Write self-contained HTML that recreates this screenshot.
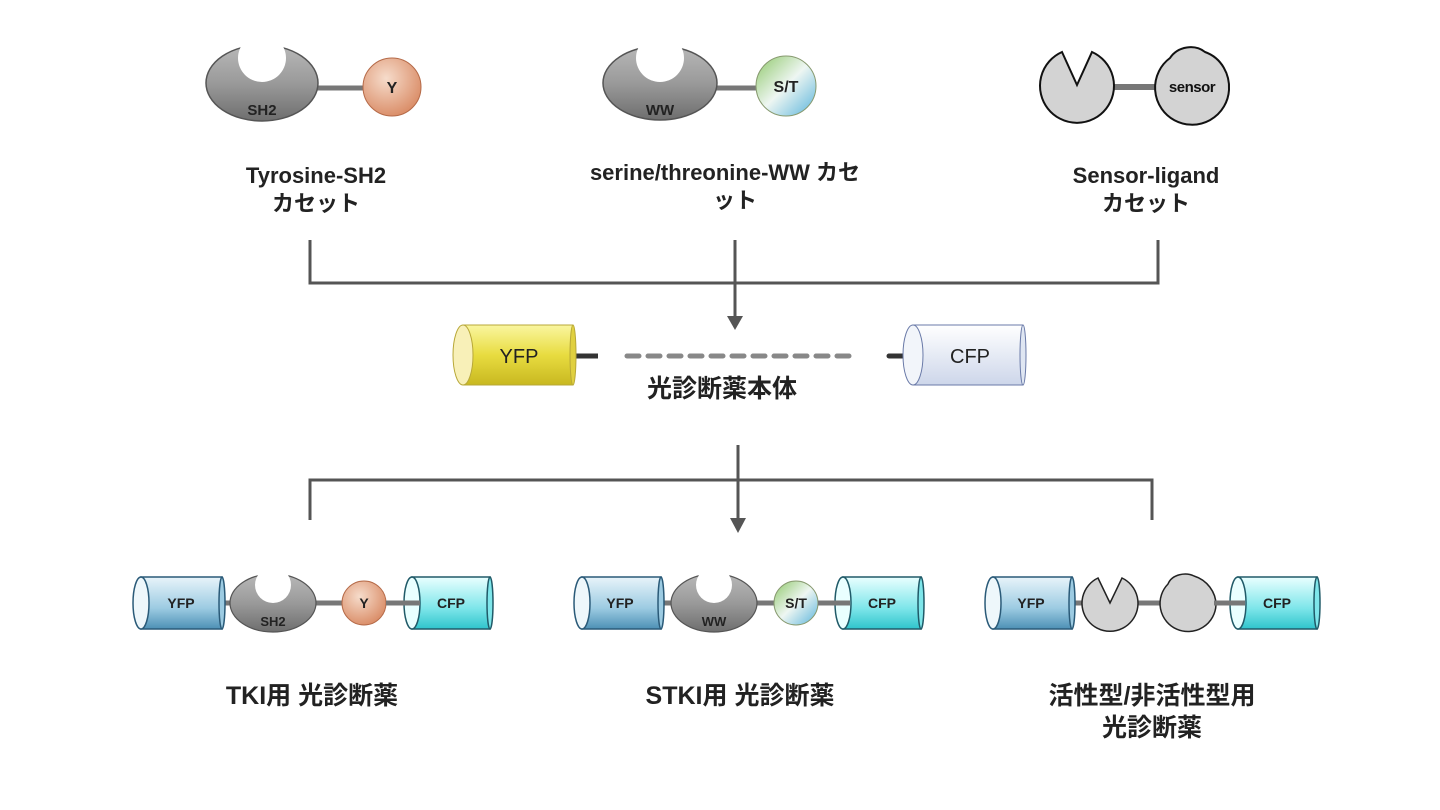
<!DOCTYPE html>
<html><head><meta charset="utf-8"><style>
html,body{margin:0;padding:0;background:#fff;}
svg{display:block;}
text{font-family:"Liberation Sans","Noto Sans CJK JP",sans-serif;}
.lab{font-family:"Liberation Sans","Noto Sans CJK JP",sans-serif;font-weight:bold;font-size:22px;fill:#222;text-anchor:middle;}
.lab2{font-family:"Liberation Sans","Noto Sans CJK JP",sans-serif;font-weight:bold;font-size:25px;fill:#222;text-anchor:middle;}
</style></head><body>
<svg width="1440" height="810" viewBox="0 0 1440 810" xmlns="http://www.w3.org/2000/svg">
<defs>
<linearGradient id="gray" x1="0" y1="0" x2="0" y2="1"><stop offset="0" stop-color="#b8b8b8"/><stop offset="0.5" stop-color="#9a9a9a"/><stop offset="1" stop-color="#6e6e6e"/></linearGradient>
<radialGradient id="org" cx="0.4" cy="0.35" r="0.7"><stop offset="0" stop-color="#f6dccb"/><stop offset="1" stop-color="#d98a64"/></radialGradient>
<linearGradient id="st" x1="0" y1="0" x2="1" y2="1"><stop offset="0" stop-color="#8fc86a"/><stop offset="0.5" stop-color="#eef6f2"/><stop offset="1" stop-color="#5ab4dc"/></linearGradient>
<linearGradient id="yel" x1="0" y1="0" x2="0" y2="1"><stop offset="0" stop-color="#faf6a0"/><stop offset="0.5" stop-color="#e8dc40"/><stop offset="1" stop-color="#c8b820"/></linearGradient>
<linearGradient id="cfp0" x1="0" y1="0" x2="0" y2="1"><stop offset="0" stop-color="#ffffff"/><stop offset="1" stop-color="#cdd6ea"/></linearGradient>
<linearGradient id="bl" x1="0" y1="0" x2="0" y2="1"><stop offset="0" stop-color="#e8f4fa"/><stop offset="0.6" stop-color="#9ccbe2"/><stop offset="1" stop-color="#4d90b5"/></linearGradient>
<linearGradient id="cy" x1="0" y1="0" x2="0" y2="1"><stop offset="0" stop-color="#e9ffff"/><stop offset="0.6" stop-color="#7ee6ea"/><stop offset="1" stop-color="#2fc4cc"/></linearGradient>
</defs>

<g>
<line x1="316" y1="88" x2="366" y2="88" stroke="#777" stroke-width="5"/>
<ellipse cx="262" cy="83" rx="56" ry="38" fill="url(#gray)" stroke="#555" stroke-width="1.5"/>
<circle cx="262" cy="58" r="24" fill="#fff"/>
<text x="262" y="115" font-size="15" font-weight="bold" text-anchor="middle" fill="#222">SH2</text>
<circle cx="392" cy="87" r="29" fill="url(#org)" stroke="#b56a48" stroke-width="1"/>
<text x="392" y="93" font-size="16" font-weight="bold" text-anchor="middle" fill="#222">Y</text>
</g>
<g>
<line x1="714" y1="88" x2="758" y2="88" stroke="#777" stroke-width="5"/>
<ellipse cx="660" cy="83" rx="57" ry="37" fill="url(#gray)" stroke="#555" stroke-width="1.5"/>
<circle cx="660" cy="58" r="24" fill="#fff"/>
<text x="660" y="115" font-size="15" font-weight="bold" text-anchor="middle" fill="#222">WW</text>
<circle cx="786" cy="86" r="30" fill="url(#st)" stroke="#889a70" stroke-width="1"/>
<text x="786" y="92" font-size="16" font-weight="bold" text-anchor="middle" fill="#222">S/T</text>
</g>
<g>
<line x1="1113" y1="87" x2="1157" y2="87" stroke="#777" stroke-width="6"/>
<path d="M1062,52 L1077,85 L1092,52 A37,37 0 1 1 1062,52 Z" fill="#d3d3d3" stroke="#111" stroke-width="2"/>
<path d="M1170,58 C1178,46 1195,44 1205,52 C1222,58 1230,75 1229,90 A37,37 0 1 1 1170,58 Z" fill="#d3d3d3" stroke="#111" stroke-width="2"/>
<text x="1192" y="92" font-size="15" font-weight="bold" text-anchor="middle" fill="#111" letter-spacing="-0.5">sensor</text>
</g>

<text class="lab" x="316" y="183">Tyrosine-SH2</text>
<text class="lab" x="316" y="211">カセット</text>
<text class="lab" x="725" y="180">serine/threonine-WW カセ</text>
<text class="lab" x="735" y="208">ット</text>
<text class="lab" x="1146" y="183">Sensor-ligand</text>
<text class="lab" x="1146" y="211">カセット</text>

<g stroke="#555" stroke-width="3" fill="none">
<path d="M310,240 V283 H1158 V240"/>
<path d="M735,240 V318"/>
<path d="M738,445 V520"/>
<path d="M310,520 V480 H1152 V520"/>
</g>
<polygon points="727,316 743,316 735,330" fill="#555"/>
<polygon points="730,518 746,518 738,533" fill="#555"/>

<line x1="573" y1="356" x2="598" y2="356" stroke="#333" stroke-width="5"/>
<line x1="627" y1="356" x2="858" y2="356" stroke="#888" stroke-width="5" stroke-dasharray="12,9" stroke-linecap="round"/>
<line x1="889" y1="356" x2="916" y2="356" stroke="#333" stroke-width="5" stroke-linecap="round"/>
<g>
<rect x="463" y="325" width="110" height="60" fill="url(#yel)" stroke="#b8a838" stroke-width="1"/>
<ellipse cx="573" cy="355" rx="3" ry="30" fill="#e0d040" stroke="#b8a838"/>
<ellipse cx="463" cy="355" rx="10" ry="30" fill="#f8f0b8" stroke="#b8a838"/>
<text x="519" y="363" font-size="20" text-anchor="middle" fill="#222">YFP</text>
</g>
<g>
<rect x="913" y="325" width="110" height="60" fill="url(#cfp0)" stroke="#6a7aa8" stroke-width="1"/>
<ellipse cx="1023" cy="355" rx="3" ry="30" fill="#dfe6f2" stroke="#6a7aa8"/>
<ellipse cx="913" cy="355" rx="10" ry="30" fill="#f2f5fa" stroke="#6a7aa8"/>
<text x="970" y="363" font-size="20" text-anchor="middle" fill="#222">CFP</text>
</g>
<text class="lab2" x="722" y="397">光診断薬本体</text>

<line x1="222" y1="603" x2="404" y2="603" stroke="#777" stroke-width="5"/>
<g>
<rect x="141" y="577" width="81" height="52" fill="url(#bl)" stroke="#2a5a78" stroke-width="1.5"/>
<ellipse cx="141" cy="603" rx="8" ry="26" fill="#eef7fb" stroke="#2a5a78" stroke-width="1.5"/>
<ellipse cx="222" cy="603" rx="3" ry="26" fill="#9ccbe2" stroke="#2a5a78" stroke-width="1.5"/>
<text x="181" y="608" font-size="14" font-weight="bold" text-anchor="middle" fill="#222">YFP</text>
</g>
<ellipse cx="273" cy="603" rx="43" ry="29" fill="url(#gray)" stroke="#555" stroke-width="1.2"/>
<circle cx="273" cy="585" r="18" fill="#fff"/>
<text x="273" y="626" font-size="13" font-weight="bold" text-anchor="middle" fill="#222">SH2</text>
<circle cx="364" cy="603" r="22" fill="url(#org)" stroke="#b56a48"/>
<text x="364" y="608" font-size="14" font-weight="bold" text-anchor="middle" fill="#222">Y</text>
<g>
<rect x="412" y="577" width="78" height="52" fill="url(#cy)" stroke="#205a68" stroke-width="1.5"/>
<ellipse cx="412" cy="603" rx="8" ry="26" fill="#e9ffff" stroke="#205a68" stroke-width="1.5"/>
<ellipse cx="490" cy="603" rx="3" ry="26" fill="#7ee6ea" stroke="#205a68" stroke-width="1.5"/>
<line x1="386" y1="603" x2="420" y2="603" stroke="#777" stroke-width="5"/>
<text x="451" y="608" font-size="14" font-weight="bold" text-anchor="middle" fill="#222">CFP</text>
</g>

<line x1="661" y1="603" x2="843" y2="603" stroke="#777" stroke-width="5"/>
<g>
<rect x="582" y="577" width="79" height="52" fill="url(#bl)" stroke="#2a5a78" stroke-width="1.5"/>
<ellipse cx="582" cy="603" rx="8" ry="26" fill="#eef7fb" stroke="#2a5a78" stroke-width="1.5"/>
<ellipse cx="661" cy="603" rx="3" ry="26" fill="#9ccbe2" stroke="#2a5a78" stroke-width="1.5"/>
<text x="620" y="608" font-size="14" font-weight="bold" text-anchor="middle" fill="#222">YFP</text>
</g>
<ellipse cx="714" cy="603" rx="43" ry="29" fill="url(#gray)" stroke="#555" stroke-width="1.2"/>
<circle cx="714" cy="585" r="18" fill="#fff"/>
<text x="714" y="626" font-size="13" font-weight="bold" text-anchor="middle" fill="#222">WW</text>
<circle cx="796" cy="603" r="22" fill="url(#st)" stroke="#889a70"/>
<text x="796" y="608" font-size="14" font-weight="bold" text-anchor="middle" fill="#222">S/T</text>
<g>
<rect x="843" y="577" width="78" height="52" fill="url(#cy)" stroke="#205a68" stroke-width="1.5"/>
<ellipse cx="843" cy="603" rx="8" ry="26" fill="#e9ffff" stroke="#205a68" stroke-width="1.5"/>
<ellipse cx="921" cy="603" rx="3" ry="26" fill="#7ee6ea" stroke="#205a68" stroke-width="1.5"/>
<line x1="818" y1="603" x2="850" y2="603" stroke="#777" stroke-width="5"/>
<text x="882" y="608" font-size="14" font-weight="bold" text-anchor="middle" fill="#222">CFP</text>
</g>

<line x1="1072" y1="603" x2="1238" y2="603" stroke="#777" stroke-width="5"/>
<g>
<rect x="993" y="577" width="79" height="52" fill="url(#bl)" stroke="#2a5a78" stroke-width="1.5"/>
<ellipse cx="993" cy="603" rx="8" ry="26" fill="#eef7fb" stroke="#2a5a78" stroke-width="1.5"/>
<ellipse cx="1072" cy="603" rx="3" ry="26" fill="#9ccbe2" stroke="#2a5a78" stroke-width="1.5"/>
<text x="1031" y="608" font-size="14" font-weight="bold" text-anchor="middle" fill="#222">YFP</text>
</g>
<path d="M1098,578 L1110,603 L1122,578 A28,28 0 1 1 1098,578 Z" fill="#d3d3d3" stroke="#222" stroke-width="1.5"/>
<path d="M1168,584 C1172,574 1186,572 1194,576 C1207,580 1216,592 1216,605 A28,28 0 1 1 1168,584 Z" fill="#d3d3d3" stroke="#222" stroke-width="1.5"/>
<g>
<rect x="1238" y="577" width="79" height="52" fill="url(#cy)" stroke="#205a68" stroke-width="1.5"/>
<ellipse cx="1238" cy="603" rx="8" ry="26" fill="#e9ffff" stroke="#205a68" stroke-width="1.5"/>
<ellipse cx="1317" cy="603" rx="3" ry="26" fill="#7ee6ea" stroke="#205a68" stroke-width="1.5"/>
<line x1="1214" y1="603" x2="1245" y2="603" stroke="#777" stroke-width="5"/>
<text x="1277" y="608" font-size="14" font-weight="bold" text-anchor="middle" fill="#222">CFP</text>
</g>

<text class="lab2" x="312" y="704">TKI用 光診断薬</text>
<text class="lab2" x="740" y="704">STKI用 光診断薬</text>
<text class="lab2" x="1152" y="704">活性型/非活性型用</text>
<text class="lab2" x="1152" y="736">光診断薬</text>
</svg>
</body></html>
